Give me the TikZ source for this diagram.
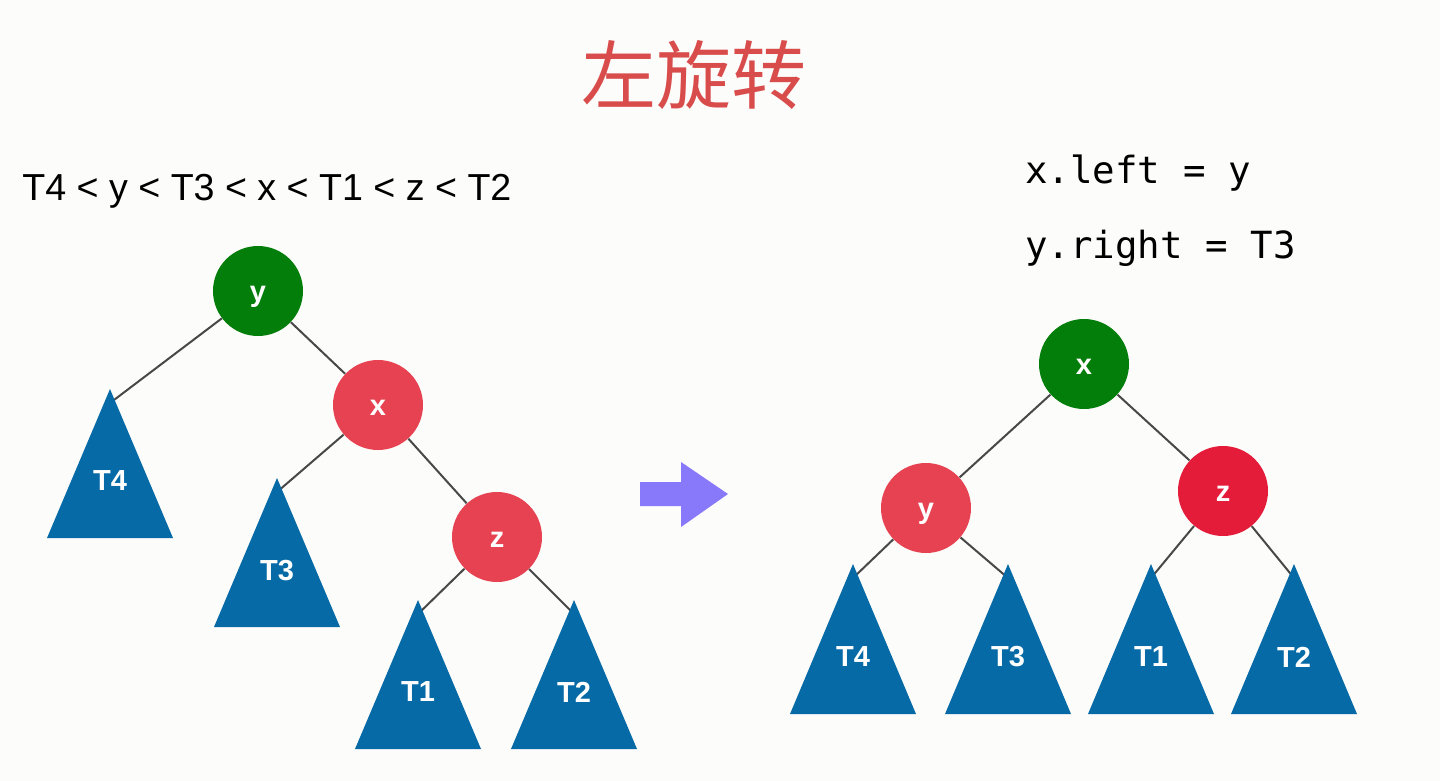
\documentclass[tikz,border=0pt]{standalone}
\usepackage{fontspec}
\setmainfont{Liberation Sans}
\setsansfont{Liberation Sans}
\newfontfamily\cjkfont{Noto Sans CJK SC}
\newfontfamily\codefont{DejaVu Sans Mono}
\definecolor{bgc}{RGB}{252,252,250}
\definecolor{gnodec}{RGB}{4,126,10}
\definecolor{rnodec}{RGB}{230,66,82}
\definecolor{znodec}{RGB}{228,28,58}
\definecolor{tric}{RGB}{6,106,166}
\definecolor{arrowc}{RGB}{136,120,250}
\definecolor{titlec}{RGB}{217,76,76}
\definecolor{edgec}{RGB}{72,72,72}
\begin{document}
\begin{tikzpicture}[x=0.5pt,y=-0.5pt,
  treenode/.style={circle, minimum size=45pt, inner sep=0pt, text=white,
    text height=10pt, text depth=0pt,
    font=\fontsize{14.5}{16}\selectfont\bfseries},
  gnode/.style={treenode, fill=gnodec},
  rnode/.style={treenode, fill=rnodec},
  znode/.style={treenode, fill=znodec},
  tri/.style={fill=tric},
  tlabel/.style={inner sep=0pt, text=white, font=\fontsize{14.5}{16}\selectfont\bfseries},
  edge/.style={draw=edgec, line width=1pt},
  code/.style={inner sep=0pt, anchor=base west, font=\codefont\fontsize{18.7}{22}\selectfont},
]
\path[fill=bgc] (0,0) rectangle (1440,781);

% title
\node[text=titlec, font=\cjkfont\fontsize{37.5}{40}\selectfont, inner sep=0pt] (title) at (694,75) {左旋转};

% order formula
\node[inner sep=0pt, anchor=base west, font=\fontsize{18.8}{22}\selectfont] (order) at (22,200) {T4 < y < T3 < x < T1 < z < T2};

% code
\node[code] (code1) at (1025,184) {x.left = y};
\node[code] (code2) at (1025,258) {y.right = T3};

% ---------- left tree ----------
\node[gnode] (ly) at (258,291) {y};
\node[rnode] (lx) at (378,405) {x};
\node[rnode] (lz) at (497,537) {z};
\coordinate (lT4) at (110,389);
\coordinate (lT3) at (277,478);
\coordinate (lT1) at (418,600);
\coordinate (lT2) at (574,600);

\draw[edge] (ly) -- ([yshift=-7pt]lT4);
\draw[edge] (ly) -- (lx);
\draw[edge] (lx) -- ([yshift=-7pt]lT3);
\draw[edge] (lx) -- (lz);
\draw[edge] (lz) -- ([yshift=-7pt]lT1);
\draw[edge] (lz) -- ([yshift=-7pt]lT2);

\fill[tri] (lT4) -- ++(63,149) -- ++(-126,0) -- cycle;
\fill[tri] (lT3) -- ++(63,149) -- ++(-126,0) -- cycle;
\fill[tri] (lT1) -- ++(63,149) -- ++(-126,0) -- cycle;
\fill[tri] (lT2) -- ++(63,149) -- ++(-126,0) -- cycle;
\node[tlabel] (lT4l) at (110,481) {T4};
\node[tlabel] (lT3l) at (277,571) {T3};
\node[tlabel] (lT1l) at (418,692) {T1};
\node[tlabel] (lT2l) at (574,692) {T2};

% ---------- arrow ----------
\fill[arrowc] (640,482) -- (681,482) -- (681,462) -- (728,494) -- (681,527) -- (681,506) -- (640,506) -- cycle;

% ---------- right tree ----------
\node[gnode] (rx) at (1084,364) {x};
\node[rnode] (ry) at (926,508) {y};
\node[znode] (rz) at (1223,491) {z};
\coordinate (rT4) at (853,564);
\coordinate (rT3) at (1008,564);
\coordinate (rT1) at (1151,564);
\coordinate (rT2) at (1294,564);

\draw[edge] (rx) -- (ry);
\draw[edge] (rx) -- (rz);
\draw[edge] (ry) -- ([yshift=-7pt]rT4);
\draw[edge] (ry) -- ([yshift=-7pt]rT3);
\draw[edge] (rz) -- ([yshift=-7pt]rT1);
\draw[edge] (rz) -- ([yshift=-7pt]rT2);

\fill[tri] (rT4) -- ++(63,150) -- ++(-126,0) -- cycle;
\fill[tri] (rT3) -- ++(63,150) -- ++(-126,0) -- cycle;
\fill[tri] (rT1) -- ++(63,150) -- ++(-126,0) -- cycle;
\fill[tri] (rT2) -- ++(63,150) -- ++(-126,0) -- cycle;
\node[tlabel] (rT4l) at (853,657) {T4};
\node[tlabel] (rT3l) at (1008,657) {T3};
\node[tlabel] (rT1l) at (1151,657) {T1};
\node[tlabel] (rT2l) at (1294,657) {T2};
\end{tikzpicture}
\end{document}
